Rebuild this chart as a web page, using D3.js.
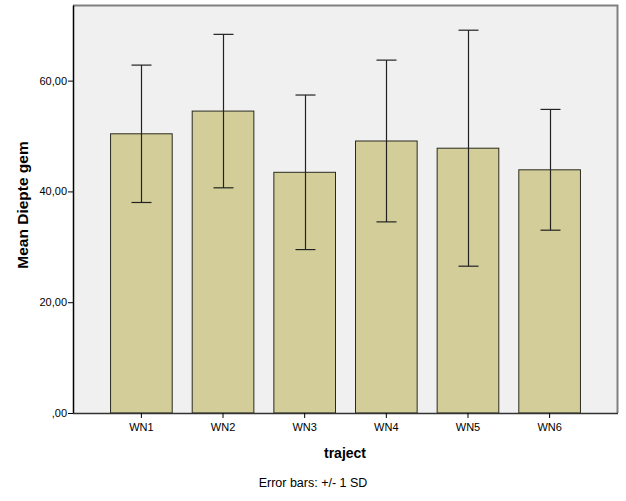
<!DOCTYPE html>
<html><head><meta charset="utf-8">
<script src="https://cdn.jsdelivr.net/npm/d3@7"></script>
<style>body{margin:0;background:#fff}svg{display:block;font-family:"Liberation Sans",Arial,sans-serif}</style>
</head><body>
<svg id="c" width="626" height="501"></svg>
<script>
const categories = ["WN1","WN2","WN3","WN4","WN5","WN6"];
const means = [50.4, 54.5, 43.45, 49.1, 47.8, 43.9];
const sds = [12.4, 13.85, 13.95, 14.6, 21.3, 10.9];
const yTicks = [0, 20, 40, 60];
const yTickLabels = [",00", "20,00", "40,00", "60,00"];

const svg = d3.select("#c");
const L = 73, R = 618, T = 5, B = 413;
const x = d3.scaleBand().domain(categories).range([L, R]).paddingInner(0.245).paddingOuter(0.46);
const y = d3.scaleLinear().domain([0, 73.65]).range([B, T]);

svg.append("rect").attr("x", L).attr("y", T).attr("width", R - L).attr("height", B - T)
  .attr("fill", "#f0f0f0").attr("stroke", "none");
svg.append("path").attr("d", `M${L},${T+0.5}H${R-0.5}V${B}`).attr("fill","none").attr("stroke","#808080").attr("stroke-width",2);

const data = categories.map((c,i)=>({c, m: means[i], s: sds[i]}));
svg.selectAll("rect.bar").data(data).join("rect").attr("class","bar")
  .attr("x", d => x(d.c)).attr("y", d => y(d.m))
  .attr("width", x.bandwidth()).attr("height", d => B - y(d.m))
  .attr("fill", "#d3ce99").attr("stroke", "#2a2a20").attr("stroke-width", 1);

const eb = svg.append("g").attr("stroke", "#222").attr("stroke-width", 1.2);
data.forEach(d => {
  const cx = Math.round(x(d.c) + x.bandwidth()/2) + 0.5;
  eb.append("line").attr("x1", cx).attr("x2", cx).attr("y1", y(d.m + d.s)).attr("y2", y(d.m - d.s));
  eb.append("line").attr("x1", cx - 10).attr("x2", cx + 10).attr("y1", y(d.m + d.s)).attr("y2", y(d.m + d.s));
  eb.append("line").attr("x1", cx - 10).attr("x2", cx + 10).attr("y1", y(d.m - d.s)).attr("y2", y(d.m - d.s));
});

const ya = svg.append("g").attr("transform", `translate(${L},0)`)
  .call(d3.axisLeft(y).tickValues(yTicks).tickFormat((d,i)=>yTickLabels[i]).tickSize(5).tickSizeOuter(0));
ya.select(".domain").attr("stroke", "#000").attr("stroke-width", 1.5);
ya.selectAll(".tick line").attr("stroke", "#000");
ya.selectAll(".tick text").attr("font-size", 11).attr("fill", "#000").attr("x", -6).attr("font-family","Liberation Sans, Arial, sans-serif");

const xa = svg.append("g").attr("transform", `translate(0,${B})`)
  .call(d3.axisBottom(x).tickSize(5).tickSizeOuter(0));
xa.select(".domain").attr("stroke", "#333").attr("stroke-width", 1.5).attr("d", `M${L},0.5H${R}`);
xa.selectAll(".tick line").attr("stroke", "#000");
xa.selectAll(".tick text").attr("font-size", 11).attr("fill", "#000").attr("y", 10).attr("font-family","Liberation Sans, Arial, sans-serif");

svg.append("text").attr("x", 345).attr("y", 458).attr("text-anchor", "middle")
  .attr("font-size", 14).attr("font-weight", "bold").text("traject");
svg.append("text").attr("x", 313).attr("y", 487).attr("text-anchor", "middle")
  .attr("font-size", 12.5).text("Error bars: +/- 1 SD");
svg.append("text").attr("transform", "translate(28,205) rotate(-90)").attr("text-anchor", "middle")
  .attr("font-size", 15.5).attr("font-weight", "bold").text("Mean Diepte gem");
</script>
</body></html>
